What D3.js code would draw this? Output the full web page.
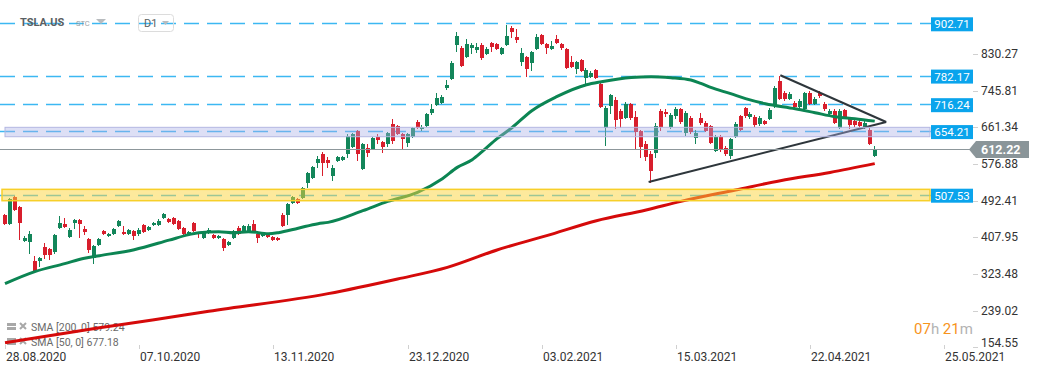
<!DOCTYPE html>
<html><head><meta charset="utf-8">
<script src="https://cdn.jsdelivr.net/npm/d3@7"></script>
<style>
body{margin:0;background:#fff;}
svg{display:block;font-family:Roboto,"Noto Sans",sans-serif;}
</style></head><body>
<svg id="c" width="1041" height="374"></svg>
<script>
// ---------- data ----------
const symbol = "TSLA.US";
const interval = "D1";
// daily candles [open, high, low, close], index 0 = 28.08.2020
const candles = [
[461.5,463.8,438.4,440.7],[440.7,500.7,438.4,498.4],[503.0,505.3,470.7,473.0],[479.9,482.2,404.0,443.0],[401.5,413.1,399.2,408.5],
[399.2,424.6,371.6,417.7],[355.4,367.0,330.1,332.4],[355.4,364.7,341.6,362.4],[387.7,397.0,360.1,369.3],[383.1,385.4,357.7,369.3],
[376.2,417.7,371.6,415.4],[431.5,459.2,429.2,443.0],[440.7,454.6,431.5,433.8],[410.8,431.5,408.5,426.9],[443.0,452.3,429.2,449.9],
[449.9,452.3,408.5,440.7],[429.2,436.1,415.4,422.3],[406.2,408.5,373.9,380.8],[362.4,392.3,348.5,390.0],[392.3,408.5,390.0,406.2],
[424.6,426.9,415.4,417.7],[413.1,420.0,410.8,417.7],[417.7,431.5,415.4,429.2],[436.1,449.9,433.8,447.6],[422.3,436.1,415.4,417.7],
[417.7,429.2,415.4,426.9],[424.6,426.9,403.9,413.1],[417.7,431.5,413.1,426.9],[438.4,440.7,420.0,422.3],[426.9,436.1,424.6,433.8],
[438.4,445.3,436.1,443.0],[438.4,452.3,436.1,447.6],[454.6,466.1,452.3,463.8],[452.3,454.6,443.0,445.3],[454.6,456.9,438.4,440.7],
[447.6,449.9,426.9,429.2],[431.5,433.8,415.4,417.7],[415.4,424.6,413.1,422.3],[443.0,445.3,422.3,424.6],[420.0,422.3,408.5,417.7],
[408.5,422.3,406.2,420.0],[420.0,431.5,417.7,426.9],[415.4,417.7,406.2,408.5],[408.5,415.4,406.2,413.1],[406.2,408.5,378.5,385.4],
[392.3,401.5,390.0,399.2],[408.5,426.9,406.2,424.6],[431.5,436.1,415.4,417.7],[424.6,438.4,422.3,436.1],[424.6,440.7,422.3,436.1],
[440.7,449.9,422.3,424.6],[417.7,420.0,396.9,408.5],[413.1,420.0,410.8,417.7],[415.4,417.7,408.5,410.8],[410.8,413.1,401.5,403.9],
[408.5,410.8,401.5,403.9],[461.5,466.1,433.8,436.1],[461.5,489.1,438.4,486.8],[489.1,505.3,486.8,503.0],[498.4,500.7,486.8,489.1],
[500.7,526.0,498.4,523.7],[535.2,560.6,523.7,558.3],[546.7,574.4,544.4,572.1],[581.3,597.5,569.8,590.6],[602.1,606.7,551.4,581.3],
[588.2,595.2,569.8,581.3],[551.4,576.7,539.8,569.8],[585.9,597.5,583.6,595.2],[588.2,597.5,585.9,595.2],[602.1,648.2,592.9,643.6],
[618.2,650.5,615.9,648.2],[655.1,657.4,585.9,602.1],[567.5,627.4,565.2,625.1],[615.9,625.1,595.2,604.4],[613.6,641.3,611.3,639.0],
[641.3,648.2,625.1,634.4],[629.7,632.0,604.4,618.2],[625.1,652.8,618.2,650.5],[671.2,682.8,625.1,632.0],[666.6,669.0,645.9,648.2],
[648.2,650.5,613.6,636.7],[627.4,650.5,618.2,648.2],[641.3,664.3,639.0,662.0],[675.8,680.4,659.7,662.0],[659.7,668.9,655.1,664.3],
[666.6,696.6,664.3,694.3],[696.6,717.3,692.0,705.8],[715.0,742.7,712.7,731.2],[719.6,738.1,717.3,733.5],[754.2,772.7,749.6,761.1],
[775.0,816.4,772.7,811.8],[853.3,883.3,837.2,874.1],[846.4,851.0,802.6,804.9],[825.7,867.2,823.4,855.6],[846.4,857.9,832.6,853.3],
[841.8,857.9,834.9,848.7],[853.3,857.9,818.7,823.4],[832.6,848.7,830.3,844.1],[857.9,860.2,837.2,848.7],[855.6,857.9,841.8,844.1],
[832.6,848.7,830.3,846.4],[853.3,899.4,851.0,874.1],[892.5,897.1,869.5,883.3],[871.8,890.2,857.9,864.8],[814.1,846.4,804.9,834.9],
[825.7,828.0,779.6,798.0],[811.8,839.5,793.4,837.2],[844.1,878.7,841.8,871.8],[876.4,878.7,853.3,855.6],[855.6,857.9,832.6,846.4],
[844.1,862.5,841.8,851.0],[867.2,876.4,855.6,857.9],[855.6,857.9,841.8,846.4],[844.1,846.4,798.0,800.3],[814.1,828.0,800.3,802.6],
[798.0,816.4,786.5,814.1],[818.7,821.0,791.1,793.4],[777.3,800.3,763.4,795.7],[779.6,793.4,777.3,788.8],[795.7,798.0,775.0,777.3],
[763.4,765.7,708.1,710.4],[662.0,712.7,620.5,708.1],[712.7,740.4,694.3,738.1],[726.5,733.5,659.7,680.4],[701.2,705.8,662.0,682.8],
[685.1,721.9,682.8,717.3],[717.3,719.6,680.4,685.1],[687.4,701.2,613.6,652.8],[655.1,657.4,592.9,618.2],[625.1,632.0,585.9,595.2],
[602.1,609.0,535.2,562.9],[604.4,673.5,592.9,666.6],[701.2,705.8,655.1,664.3],[698.9,705.8,687.4,694.3],[664.3,696.6,659.7,692.0],
[689.7,710.4,682.8,705.8],[705.8,708.1,671.2,675.8],[650.5,701.2,643.6,696.6],[685.1,689.7,648.2,652.8],[639.0,657.4,625.1,650.5],
[685.1,696.6,668.9,673.5],[673.5,678.1,652.8,655.1],[666.6,668.9,625.1,627.4],[609.0,645.9,606.7,641.3],[641.3,645.9,606.7,611.3],
[615.9,620.5,597.5,602.1],[597.5,639.0,590.6,636.7],[641.3,675.8,639.0,671.2],[689.7,692.0,655.1,657.4],[708.1,710.4,685.1,689.7],
[687.4,698.9,682.8,694.3],[687.4,692.0,664.3,668.9],[671.2,689.7,666.6,685.1],[678.1,680.4,668.9,671.2],[682.8,708.1,680.4,703.5],
[712.7,758.8,708.1,754.2],[770.3,781.9,726.5,728.9],[742.7,747.3,724.2,728.9],[728.9,745.0,726.5,740.4],[719.6,724.2,705.8,710.4],
[710.4,728.9,708.1,724.2],[705.8,745.0,701.2,742.7],[742.7,747.3,715.0,717.3],[717.3,733.5,715.0,728.9],[742.7,747.3,731.2,735.8],
[717.3,721.9,701.2,705.8],[694.3,705.8,689.7,701.2],[701.2,705.8,671.2,673.5],[662.0,705.8,659.7,701.2],[703.5,705.8,682.8,685.1],
[682.8,685.1,659.7,668.9],[678.1,680.4,664.3,668.9],[675.8,680.4,659.7,666.6],[662.0,682.8,659.7,673.5],[657.4,662.0,622.8,625.1],
[597.5,620.5,595.2,612.22]
];
// moving averages read at sample candle indices
const sma50Idx = [0,6,12,16,19,26,33,37,39,43,46,49,53,55,59,63,65,72,77,83,88,91,94,96,99,102,106,111,117,120,126,130,134,138,140,142,146,149,153,159,163,167,171,175];
const sma50Val = [302.4,330.1,348.5,361.2,367.0,380.8,402.7,415.4,420.0,422.3,420.0,422.3,417.7,420.0,430.3,440.7,443.7,470.7,492.1,512.9,544.4,570.5,588.2,606.7,636.7,662.0,701.2,733.5,761.1,768.0,777.9,779.6,777.3,772.0,764.1,754.9,740.4,728.9,717.3,705.8,696.6,687.4,682.8,677.18];
const sma200Idx = [0,19,30,41,65,79,89,99,109,119,129,136,147,156,166,175];
const sma200Val = [166.4,200.9,219.0,239.0,279.4,313.2,340.0,380.1,413.1,447.6,472.3,492.1,518.4,539.8,558.9,579.24];
// triangle (index, price)
const triUpper = [[156,783.0],[177.3,675.1]];
const triLower = [[129.5,537.0],[177.3,675.1]];
// horizontal levels
const levels = [902.71, 782.17, 716.24, 654.21, 507.53];
const bandLavender = [641.2, 662.9];
const bandYellow = [493.7, 519.9];
const lastPrice = 612.22;
const priceTicks = [830.27, 745.81, 661.34, 576.88, 492.41, 407.95, 323.48, 239.02, 154.55];
const dateTickIdx = [0, 27, 54, 81, 108, 135, 162, 189];
const dateTickLabels = ["28.08.2020","07.10.2020","13.11.2020","23.12.2020","03.02.2021","15.03.2021","22.04.2021","25.05.2021"];
const legendItems = [["SMA [200, 0] 579.24"], ["SMA [50, 0] 677.18"]];
const timer = [["07","#f7941d"],["h","#b3b3b3"],[" 21","#f7941d"],["m","#b3b3b3"]];

// ---------- scales ----------
const svg = d3.select("#c");
const x = d3.scaleLinear().domain([0, 175]).range([5, 874.75]);
const y = d3.scaleLinear().domain([154.55, 902.71]).range([347.8, 23.3]);
const plotRight = 931;
const GREEN = "#13865a", RED = "#d81e2c";

// dashed level lines
svg.append("g").selectAll("line").data(levels).join("line")
  .attr("x1", 0).attr("x2", plotRight)
  .attr("y1", d => Math.round(y(d)) + 0.5).attr("y2", d => Math.round(y(d)) + 0.5)
  .attr("stroke", "#3cb8f2").attr("stroke-width", 1.5).attr("stroke-dasharray", "15,8");

// legend (drawn under the lines)
const lg = svg.append("g");
legendItems.forEach((it, i) => {
  const ly = 327 + i * 15;
  lg.append("rect").attr("x", 7).attr("y", ly - 4).attr("width", 9).attr("height", 7).attr("fill", "#a8a8a8");
  lg.append("line").attr("x1", 7).attr("x2", 16).attr("y1", ly - 0.5).attr("y2", ly - 0.5).attr("stroke", "#fff").attr("stroke-width", 1);
  lg.append("path").attr("d", `M20,${ly-4}L26,${ly+2}M26,${ly-4}L20,${ly+2}`).attr("stroke", "#a8a8a8").attr("stroke-width", 2);
  lg.append("text").attr("x", 31).attr("y", ly).attr("dominant-baseline", "central")
    .attr("font-size", 10.5).attr("fill", "#6a6a6a").text(it[0]);
});

// header
const hd = svg.append("g");
hd.append("text").attr("x", 20).attr("y", 22).attr("dominant-baseline", "central")
  .attr("font-size", 11).attr("font-weight", "bold").attr("fill", "#5a5f63").text(symbol);
hd.append("text").attr("x", 76).attr("y", 23.5).attr("dominant-baseline", "central")
  .attr("font-size", 7.5).attr("fill", "#9aa0a4").text("STC");
hd.append("path").attr("d", "M96,19L106,19L101,24Z").attr("fill", "#b8bcbf");
hd.append("rect").attr("x", 138.5).attr("y", 14.5).attr("width", 35).attr("height", 17).attr("rx", 3)
  .attr("fill", "none").attr("stroke", "#dcdcdc");
hd.append("text").attr("x", 144).attr("y", 23).attr("dominant-baseline", "central")
  .attr("font-size", 11).attr("fill", "#5a5f63").text(interval);
hd.append("path").attr("d", "M162,21L169,21L165.5,25Z").attr("fill", "#b8bcbf");

// candles
const cg = svg.append("g").attr("shape-rendering", "crispEdges");
candles.forEach((c, i) => {
  const [o, h, l, cl] = c;
  const cx = Math.round(x(i));
  const col = cl >= o ? GREEN : RED;
  cg.append("rect").attr("x", cx - 1).attr("width", 1)
    .attr("y", y(h)).attr("height", Math.max(1, y(l) - y(h))).attr("fill", col);
  const top = y(Math.max(o, cl)), bot = y(Math.min(o, cl));
  cg.append("rect").attr("x", cx - 2.5).attr("width", 4)
    .attr("y", top).attr("height", Math.max(1.5, bot - top)).attr("fill", col);
});

// moving averages
const line = d3.line().x(d => x(d[0])).y(d => y(d[1])).curve(d3.curveMonotoneX);
svg.append("path").datum(sma200Idx.map((d, i) => [d, sma200Val[i]]))
  .attr("d", line).attr("fill", "none").attr("stroke", "#d50a0a").attr("stroke-width", 3).attr("stroke-linejoin", "round");
svg.append("path").datum(sma50Idx.map((d, i) => [d, sma50Val[i]]))
  .attr("d", line).attr("fill", "none").attr("stroke", "#0c8553").attr("stroke-width", 3).attr("stroke-linejoin", "round");

// triangle
const tline = d3.line().x(d => x(d[0])).y(d => y(d[1]));
[triUpper, triLower].forEach(t => {
  svg.append("path").datum(t).attr("d", tline).attr("fill", "none")
    .attr("stroke", "#2e363b").attr("stroke-width", 2);
});

// bands (semi transparent, over everything)
svg.append("rect").attr("x", 5).attr("width", plotRight - 6)
  .attr("y", y(bandLavender[1])).attr("height", y(bandLavender[0]) - y(bandLavender[1]))
  .attr("fill", "#aab0e6").attr("fill-opacity", 0.4).attr("stroke", "#b3b7e2").attr("stroke-width", 1);
svg.append("rect").attr("x", 2).attr("width", plotRight - 3)
  .attr("y", y(bandYellow[1])).attr("height", y(bandYellow[0]) - y(bandYellow[1]))
  .attr("fill", "#fbd33a").attr("fill-opacity", 0.5).attr("stroke", "#f7cf2a").attr("stroke-width", 1.5);

// last price line
svg.append("line").attr("x1", 0).attr("x2", 970)
  .attr("y1", Math.round(y(lastPrice)) + 0.5).attr("y2", Math.round(y(lastPrice)) + 0.5)
  .attr("stroke", "#8d979b").attr("stroke-width", 1);

// level labels
const ll = svg.append("g");
levels.forEach(v => {
  const yy = y(v) + 1;
  ll.append("rect").attr("x", 931).attr("y", yy - 7).attr("width", 42).attr("height", 14).attr("fill", "#0aa4ec");
  ll.append("text").attr("x", 952).attr("y", yy).attr("text-anchor", "middle").attr("dominant-baseline", "central")
    .attr("font-size", 11.5).attr("fill", "#fff").text(v.toFixed(2));
});

// y axis
const ya = svg.append("g");
priceTicks.forEach((v, i) => {
  const yy = y(v) - 0.5;
  const ly = i === priceTicks.length - 1 ? yy - 4.5 : yy;
  ya.append("line").attr("x1", 973).attr("x2", 978).attr("y1", Math.round(yy) + 0.5).attr("y2", Math.round(yy) + 0.5)
    .attr("stroke", "#d0d0d0");
  ya.append("text").attr("x", 981).attr("y", ly).attr("dominant-baseline", "central")
    .attr("font-size", 12).attr("fill", "#333").text(v.toFixed(2));
});

// current price tag
const py = Math.round(y(lastPrice)) + 0.5;
svg.append("path").attr("d", `M969,${py}L976,${py-8.5}L1029,${py-8.5}L1029,${py+8.5}L976,${py+8.5}Z`).attr("fill", "#8a9599");
svg.append("text").attr("x", 981).attr("y", py).attr("dominant-baseline", "central")
  .attr("font-size", 12.5).attr("font-weight", "bold").attr("fill", "#fff").text(lastPrice.toFixed(2));

// x axis
const xa = svg.append("g");
dateTickIdx.forEach((d, i) => {
  const xx = Math.round(x(d)) + 0.5;
  xa.append("line").attr("x1", xx).attr("x2", xx).attr("y1", 345).attr("y2", 349).attr("stroke", "#d0d0d0");
  xa.append("text").attr("x", xx + 0.5).attr("y", 356.5).attr("dominant-baseline", "central")
    .attr("font-size", 12).attr("fill", "#333").text(dateTickLabels[i]);
});

// countdown
const tt = svg.append("text").attr("x", 914).attr("y", 329).attr("dominant-baseline", "central").attr("font-size", 15);
timer.forEach(t => tt.append("tspan").attr("fill", t[1]).text(t[0]));
</script>
</body></html>
